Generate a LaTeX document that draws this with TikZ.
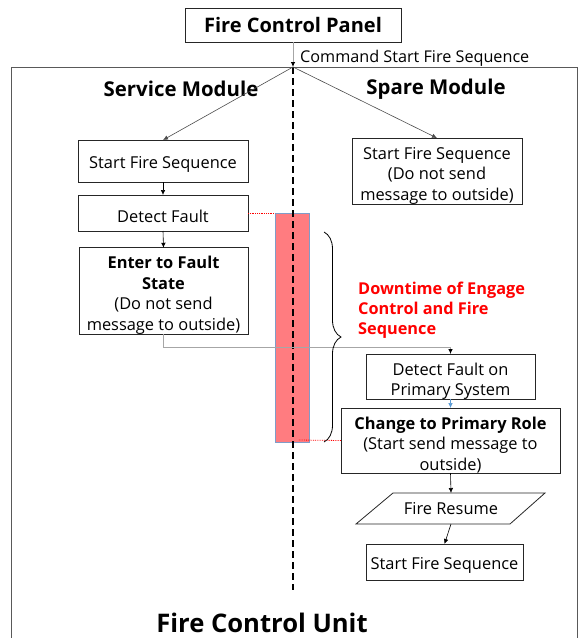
\documentclass[tikz,border=0pt]{standalone}
\usepackage{fontspec}
\setmainfont{Open Sans}
\usetikzlibrary{arrows.meta,decorations.pathreplacing,calc}
\definecolor{dtfill}{HTML}{FF7C80}
\definecolor{dtedge}{HTML}{7F9CC8}
\definecolor{blueln}{HTML}{5B9BD5}
\definecolor{grayln}{HTML}{A6A6A6}
\definecolor{frame}{HTML}{595959}
\newcommand\onestrut{\rule{0pt}{19pt}}
\newcommand\multistrut{\rule{0pt}{21pt}}
\tikzset{
  box/.style={draw=black!85, line width=0.8pt, inner sep=0pt, outer sep=0pt, align=center,
    font=\fontsize{16.4}{20.5}\selectfont},
  heading/.style={font=\bfseries\fontsize{20.4}{24}\selectfont, inner sep=0pt},
  arr/.style={line width=0.6pt, -{Latex[length=5pt,width=4.5pt]}},
  reddot/.style={red, densely dotted, line width=0.8pt},
}
\begin{document}
\begin{tikzpicture}[x=1pt,y=-1pt]
\useasboundingbox (0,0) rectangle (582,638);
\clip (0,0) rectangle (582,638);
% outer frame
\draw[frame, line width=1pt] (11,67) rectangle (577,660);
% top panel
\node[draw=black!85, line width=0.8pt, inner sep=0pt, outer sep=0pt, font=\bfseries\fontsize{20}{24}\selectfont, minimum width=216pt, minimum height=34pt] (fcp) at (293,25) {Fire Control Panel};
\coordinate (j) at (293,67);
\node[anchor=west, inner sep=0pt, font=\fontsize{16.2}{19}\selectfont] (cmd) at (300,58.5) {Command Start Fire Sequence};
% headings
\node[heading] (svc) at (181,89) {Service Module};
\node[heading] (spr) at (436,89) {Spare Module};
\node[anchor=base, font=\bfseries\fontsize{25.6}{30}\selectfont, inner sep=0pt] (fcu) at (262,632) {Fire Control Unit};
% downtime bar
\node[fill=dtfill, draw=dtedge, line width=0.8pt, minimum width=34pt, minimum height=229pt, inner sep=0pt, outer sep=0pt] (dt) at (292,327.5) {};
% dashed divider
\coordinate (dend) at (293,590);
\draw[line width=1.6pt, dash pattern=on 7pt off 4pt] (j) -- (dend);
% left column
\node[box, minimum width=170pt, minimum height=42pt] (b1) at (163,161) {\onestrut Start Fire Sequence};
\node[box, minimum width=170pt, minimum height=36pt] (b2) at (163,213) {\onestrut Detect Fault};
\node[box, minimum width=169pt, minimum height=84pt] (b3) at (163.5,291) {\multistrut\textbf{Enter to Fault}\\\textbf{State}\\(Do not send\\message to outside)};
% right column
\node[box, minimum width=170pt, minimum height=62pt] (r1) at (437,171) {\multistrut Start Fire Sequence\\(Do not send\\message to outside)};
\node[box, minimum width=169pt, minimum height=37pt, font=\fontsize{16.4}{20}\selectfont] (df) at (450.5,376.5) {\multistrut Detect Fault on\\Primary System};
\node[box, minimum width=219pt, minimum height=65pt] (cp) at (450.5,440.5) {\multistrut\textbf{Change to Primary Role}\\(Start send message to\\outside)};
\draw[draw=black!85, line width=0.8pt] (393,493) -- (545,493) -- (510,524) -- (356,524) -- cycle;
\node[inner sep=0pt, outer sep=0pt, minimum height=31pt, font=\fontsize{16.4}{20}\selectfont] (fr) at (451,508.5) {Fire Resume};
\node[box, minimum width=157pt, minimum height=36pt] (r4) at (444.5,562) {\onestrut Start Fire Sequence};
% connectors
\draw[grayln, line width=0.8pt, -{Latex[length=5pt,width=4.5pt,color=black]}] (fcp.south) -- (j);
\draw[arr, black!70] (j) -- (b1.north);
\draw[arr, black!70] (j) -- (r1.north);
\draw[arr] (b1.south) -- (b2.north);
\draw[arr] (b2.south) -- (b3.north);
\draw[grayln, line width=0.8pt, -{Latex[length=5pt,width=4.5pt,color=black]}] (b3.south) -- ++(0,13) -| (df.north);
\draw[arr, blueln] (df.south) -- (cp.north);
\draw[arr] (cp.south) -- (fr.north);
\draw[arr] (fr.south) -- (r4.north);
% red dotted markers
\draw[reddot] (b2.east) -- (dt.north west);
\coordinate (dtin) at (298,440);
\draw[reddot] (cp.west) -- (dtin);
% brace
\coordinate (bt) at (324,232);
\coordinate (bb) at (324,442);
\draw[line width=0.8pt, decorate, decoration={brace, amplitude=17pt}] (bt) -- (bb);
\node[anchor=north west, align=left, text=red, inner sep=0pt, font=\bfseries\fontsize{16.3}{20}\selectfont] (dtl) at (358,282) {Downtime of Engage\\Control and Fire\\Sequence};
\end{tikzpicture}
\end{document}
